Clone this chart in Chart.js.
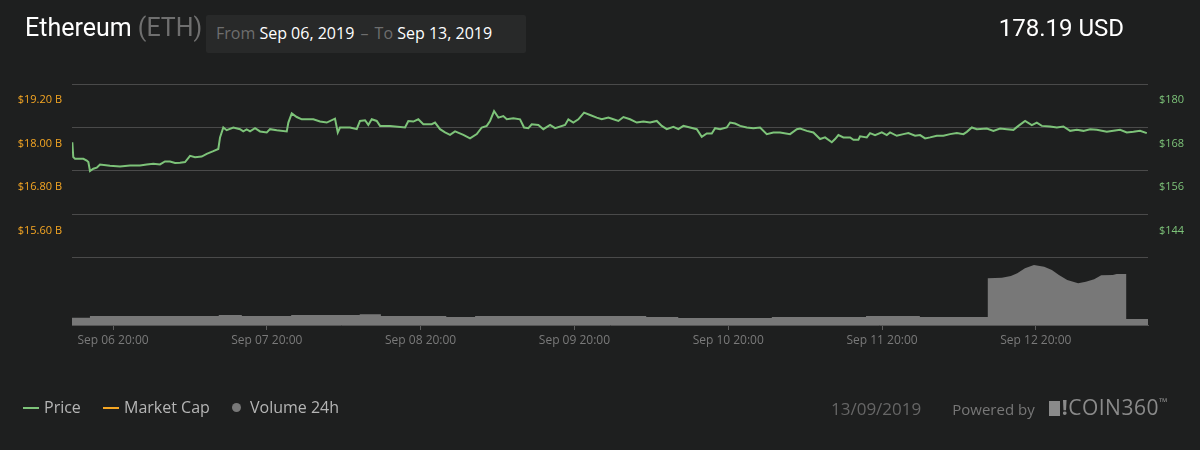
<!DOCTYPE html>
<html>
<head>
<meta charset="utf-8">
<script src="https://cdn.jsdelivr.net/npm/chart.js@4/dist/chart.umd.min.js"></script>
<style>
  html, body { margin: 0; padding: 0; background: #1e1f1f; }
  #wrap { position: relative; width: 1200px; height: 450px; overflow: hidden; font-family: 'Open Sans', sans-serif; }
  #chart { position: absolute; left: 0; top: 0; }
  .title { position: absolute; left: 25px; top: 13px; font-family: Roboto, sans-serif; font-size: 25px; color: #fff; }
  .title .sym { color: #6f6f6f; }
  .range { position: absolute; left: 206px; top: 15px; width: 320px; height: 38px; background: #282929; border-radius: 2px;
           font-family: 'Open Sans', sans-serif; font-size: 16px; color: #fff; line-height: 37px; box-sizing: border-box; padding-left: 10px; white-space: nowrap; }
  .range .muted { color: #6e6e6e; }
  .range .to { word-spacing: 2px; }
  .price { position: absolute; right: 76px; top: 14px; font-family: Roboto, sans-serif; font-size: 24px; color: #fff; }
  .legend { position: absolute; left: 23px; top: 396px; font-size: 16px; color: #b5b5b5; white-space: nowrap; }
  .legend span.item { margin-right: 18px; }
  .dash { display: inline-block; width: 16px; height: 2px; vertical-align: middle; margin-right: 5px; position: relative; top: -1px; }
  .dot { display: inline-block; width: 9px; height: 9px; border-radius: 50%; background: #787878; vertical-align: middle; margin-right: 9px; position: relative; top: -1px; }
  .footer { position: absolute; top: 393px; left: 831px; font-size: 17px; color: #666; white-space: nowrap; }
  .footer .by { color: #777; font-size: 15px; margin-left: 31px; }
  .logo { color: #8a8a8a; font-size: 21px; margin-left: 14px; letter-spacing: 0.5px; }
  .logo .sq { display: inline-block; width: 11px; height: 15px; background: #8a8a8a; margin-right: 2px; vertical-align: -1px; }
  .logo sup { font-size: 11px; vertical-align: 9px; }
</style>
</head>
<body>
<div id="wrap">
  <canvas id="chart" width="1200" height="450"></canvas>
  <div class="title">Ethereum <span class="sym">(ETH)</span></div>
  <div class="range"><span class="muted">From</span> Sep 06, 2019<span class="muted to"> – To</span> Sep 13, 2019</div>
  <div class="price">178.19 USD</div>
  <div class="legend">
    <span class="item"><span class="dash" style="background:#7dc379"></span>Price</span>
    <span class="item"><span class="dash" style="background:#f5a623"></span>Market Cap</span>
    <span class="item"><span class="dot"></span>Volume 24h</span>
  </div>
  <div class="footer">13/09/2019<span class="by">Powered by</span><span class="logo"><span class="sq"></span><b>!</b>COIN360<sup>™</sup></span></div>
</div>
<script>
// hours counted from Sep 06 2019 00:00
const priceHours = [13.65,13.8,14.07,15.37,15.9,16.15,16.41,16.93,17.46,17.97,
  19.53,21.09,22.65,24.21,25.26,26.29,27.33,28.11,28.9,29.68,
  30.46,31.24,32.02,32.8,33.84,34.62,35.65,36.43,36.7,37.21,
  37.74,38.77,39.82,40.33,40.86,41.38,42.16,42.94,43.99,44.5,
  45.55,47.11,47.36,47.89,48.67,49.45,51.26,52.3,53.35,54.64,
  55.07,55.42,56.98,58.03,58.54,59.33,59.84,60.37,61.15,61.67,
  63.23,65.57,66.08,66.86,67.64,68.42,69.73,70.25,71.03,71.81,
  72.59,73.37,74.67,75.71,76.76,77.54,78.32,78.83,79.46,80.13,
  80.91,81.44,82.47,83.51,84.14,84.81,85.34,86.37,87.15,88.2,
  88.98,90.54,91.05,91.83,92.61,93.5,94.44,95.48,96.26,97.3,
  98.08,98.86,99.64,100.68,101.73,102.76,103.8,104.85,105.63,106.41,
  107.44,108.22,109.0,110.04,111.09,111.87,112.65,113.43,113.95,114.73,
  115.77,116.29,117.07,117.85,118.89,119.92,120.97,122.01,123.04,124.09,
  125.65,126.7,127.21,128.26,129.29,130.33,131.11,132.16,132.67,133.19,
  133.97,135.02,135.53,136.31,136.57,137.62,138.13,138.91,139.96,140.74,
  141.25,142.3,143.33,144.11,145.16,145.94,146.72,147.5,148.54,149.57,
  150.62,151.67,152.7,153.23,154.01,154.79,156.35,157.38,158.42,159.47,
  160.5,161.28,162.32,163.37,164.15,164.93,166.22,167.27,168.3,169.35,
  170.39,171.42,172.47,173.51,175.07,176.1,177.15,178.19,179.22,180.26,
  181.31];

const priceUsd = [175.91,171.82,171.36,171.36,170.89,170.46,168.0,168.63,168.9,169.8,
  169.45,169.26,169.53,169.53,169.8,169.99,169.8,170.62,170.62,170.18,
  170.26,170.46,172.17,171.82,171.98,172.72,173.46,174.08,177.27,180.0,
  179.26,180.0,179.54,178.91,179.45,178.91,179.81,178.91,178.64,179.54,
  179.26,178.91,181.36,183.9,182.89,182.26,182.26,181.64,181.36,182.45,
  178.64,180.0,180.0,179.54,181.8,181.99,180.71,182.26,181.8,180.44,
  180.44,180.0,181.8,181.64,182.26,180.9,180.9,181.36,179.54,178.64,
  177.98,178.91,177.98,177.0,178.17,180.0,180.44,181.8,184.53,182.73,
  183.16,182.26,182.54,182.26,180.0,179.81,180.9,180.71,179.54,180.71,
  179.81,180.71,182.26,181.36,182.26,184.09,183.44,182.73,182.26,182.73,
  182.26,181.8,182.89,182.26,181.36,181.64,181.36,181.8,180.44,179.54,
  180.16,179.54,180.44,180.0,179.54,177.44,178.36,178.36,179.81,179.54,
  180.0,181.36,181.09,180.44,180.0,179.81,180.0,178.17,178.64,178.64,
  178.17,179.54,179.73,179.07,178.64,176.81,177.27,175.91,176.81,177.9,
  177.27,177.27,176.62,176.62,177.55,177.27,178.45,177.9,178.64,177.9,
  178.64,177.71,178.17,178.45,177.71,177.9,177.0,177.27,177.71,177.71,
  178.17,178.45,178.17,178.8,180.0,179.54,179.73,179.07,179.73,179.54,
  179.35,180.44,181.8,180.63,181.36,180.44,180.27,180.0,180.27,179.07,
  179.35,179.07,179.54,179.35,178.8,179.07,179.35,178.64,178.8,179.07,
  178.45];

// volume outline, repeated hours mark the vertical steps
const volHours = [13.6,16.4,16.4,36.5,36.5,40.1,40.1,47.8,47.8,58.5,58.5,61.8,61.8,72.0,72.0,76.5,76.5,
  103.2,103.2,108.2,108.2,122.8,122.8,137.5,137.5,145.9,145.9,156.5,
  156.5,158.7,160.1,161.1,162.3,163.7,165.3,166.5,167.6,168.9,170.6,171.8,173.1,174.2,176.0,176.6,178.1,
  178.1,181.5];
const volBillions = [6.1,6.1,7.5,7.5,8.3,8.3,7.5,7.5,8.3,8.3,8.9,8.9,7.5,7.5,6.6,6.6,7.5,
  7.5,6.6,6.6,5.8,5.8,6.6,6.6,7.5,7.5,6.6,6.6,
  38.8,39.3,40.7,42.9,47.1,49.8,48.4,45.7,41.5,37.4,34.6,35.9,37.9,41.3,41.5,42.3,42.3,
  5.0,5.0];

const xTickHours = [20, 44, 68, 92, 116, 140, 164];
const xTickLabels = ['Sep 06 20:00', 'Sep 07 20:00', 'Sep 08 20:00', 'Sep 09 20:00', 'Sep 10 20:00', 'Sep 11 20:00', 'Sep 12 20:00'];
const priceTicks = [144, 156, 168, 180, 192];
const capTicks = [15.6, 16.8, 18.0, 19.2, 20.4];

Chart.defaults.font.family = "'Open Sans', sans-serif";

const pts = (xs, ys) => xs.map((x, i) => ({ x, y: ys[i] }));

new Chart(document.getElementById('chart'), {
  type: 'line',
  data: {
    datasets: [
      {
        label: 'Price',
        data: pts(priceHours, priceUsd),
        yAxisID: 'yPrice',
        borderColor: '#7dc379',
        borderWidth: 2,
        pointRadius: 0,
        tension: 0,
        fill: false,
      },
      {
        label: 'Volume 24h',
        data: pts(volHours, volBillions),
        yAxisID: 'yVol',
        borderWidth: 0,
        borderColor: 'rgba(0,0,0,0)',
        backgroundColor: '#787878',
        pointRadius: 0,
        tension: 0,
        fill: 'origin',
      },
    ],
  },
  options: {
    responsive: false,
    animation: false,
    layout: { padding: { top: 84, bottom: 95, left: 0, right: 0 } },
    plugins: { legend: { display: false }, tooltip: { enabled: false } },
    scales: {
      x: {
        type: 'linear',
        min: 13.6,
        max: 181.5,
        afterBuildTicks: (s) => { s.ticks = xTickHours.map((v) => ({ value: v })); },
        afterFit: (s) => { s.height = 30; },
        grid: { drawOnChartArea: false, drawTicks: true, tickLength: 5, color: '#5e5e5e' },
        border: { display: true, color: '#555', width: 1 },
        ticks: {
          color: '#7a7a7a',
          font: { size: 12 },
          padding: 3,
          maxRotation: 0,
          autoSkip: false,
          callback: (v) => xTickLabels[xTickHours.indexOf(v)] || '',
        },
      },
      yCap: {
        position: 'left',
        min: 13.75,
        max: 20.4,
        afterBuildTicks: (s) => { s.ticks = capTicks.map((v) => ({ value: v })); },
        afterFit: (s) => { s.width = 72; },
        grid: { display: false, drawTicks: false },
        border: { display: false },
        ticks: {
          color: '#f5a623',
          font: { size: 11 },
          padding: 10,
          labelOffset: -27.5,
          callback: (v) => (v >= 20.4 ? '' : '$' + v.toFixed(2) + ' B'),
        },
      },
      yPrice: {
        position: 'right',
        min: 125.5,
        max: 192,
        afterBuildTicks: (s) => { s.ticks = priceTicks.map((v) => ({ value: v })); },
        afterFit: (s) => { s.width = 52; },
        grid: { color: '#4a4a4a', lineWidth: 1, drawTicks: false },
        border: { display: false },
        ticks: {
          color: '#7dc379',
          font: { size: 11 },
          padding: 11,
          labelOffset: -27.5,
          callback: (v) => (v >= 192 ? '' : '$' + v),
        },
      },
      yVol: {
        display: false,
        min: 0,
        max: 200,
      },
    },
  },
});
</script>
</body>
</html>
